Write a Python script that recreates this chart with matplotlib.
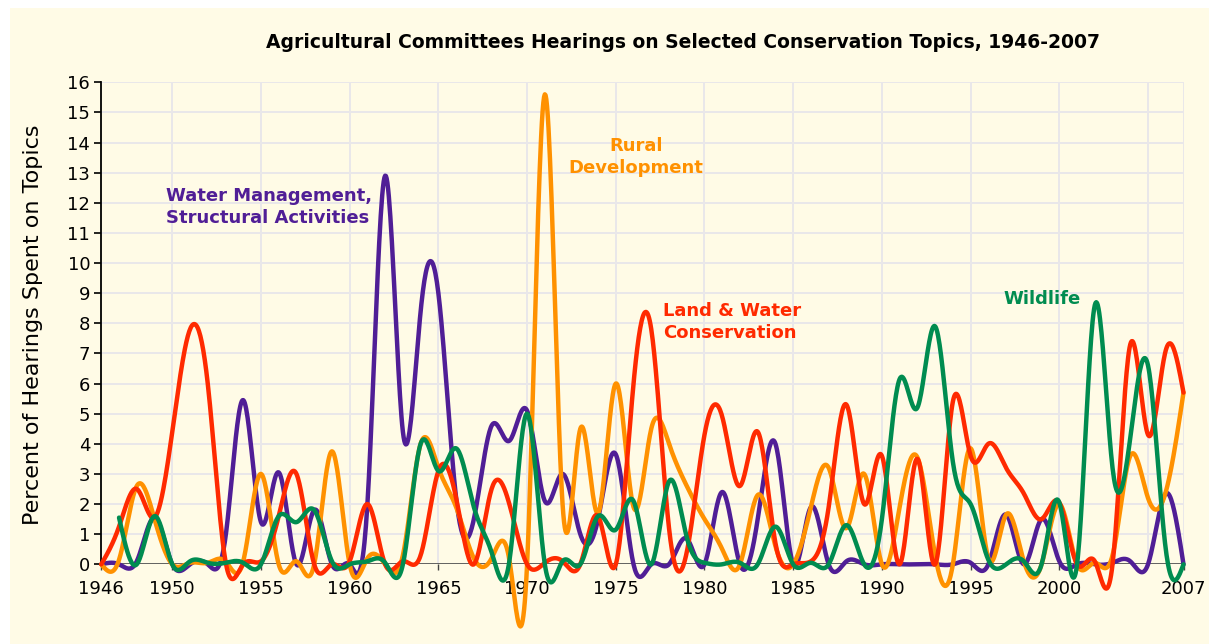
import numpy as np
import matplotlib
matplotlib.use("Agg")
import matplotlib.pyplot as plt
from matplotlib.patches import Rectangle

# ---- data: percent of hearings per year ----
years = list(range(1946, 2008))

water_mgmt = [0, 0, 0.1, 1.55, 0, 0, 0, 0.9, 5.45, 1.4,
              3.05, 0, 1.8, 0, 0, 2.0, 12.9, 4.4, 8.4, 9.0,
              2.2, 1.5, 4.6, 4.1, 5.1, 2.1, 3.0, 1.0, 1.5, 3.65,
              0, 0, 0, 0.85, 0, 2.4, 0, 1.5, 4.0, 0,
              1.9, 0, 0.1, 0, 0, 0, 0, 0, 0, 0.05,
              0, 1.65, 0, 1.5, 0.1, 0, 0, 0.05, 0.1, 0,
              2.35, 0]

rural_dev = [0, 0.15, 2.6, 1.5, 0, 0.05, 0.05, 0.1, 0.1, 3.0,
             0, 0.1, 0, 3.75, 0, 0.2, 0, 0.3, 4.0, 3.2,
             1.9, 0.2, 0.2, 0.15, 0, 15.6, 2.0, 4.5, 1.7, 6.0,
             1.9, 4.5, 4.0, 2.6, 1.5, 0.5, 0, 2.3, 0.6, 0,
             1.9, 3.2, 1.2, 3.0, 0, 1.9, 3.55, 0.3, 0, 3.85,
             0.2, 1.65, 0.1, 0, 2.0, 0, 0.05, 0.3, 3.6, 2.2,
             2.4, 5.7]

land_water = [0, 1.25, 2.5, 1.55, 4.4, 7.8, 6.0, 0.1, 0, 0.1,
              1.6, 3.0, 0, 0, 0.1, 2.0, 0, 0.1, 0.3, 3.1,
              2.2, 0, 2.5, 2.0, 0, 0.05, 0.1, 0, 1.6, 0,
              6.0, 7.8, 1.2, 0.4, 4.3, 4.9, 2.6, 4.4, 0.7, 0,
              0.1, 1.9, 5.3, 2.0, 3.6, 0, 3.5, 0, 5.4, 3.6,
              4.0, 3.2, 2.35, 1.5, 2.05, 0, 0.1, 0, 7.3, 4.3,
              7.1, 5.7]

# wildlife series begins in 1947
wildlife_years = list(range(1947, 2008))
wildlife = [1.55, 0, 1.6, 0, 0.1, 0.05, 0.05, 0.05, 0,
            1.6, 1.4, 1.8, 0.1, 0, 0.1, 0.05, 0, 4.0, 3.1,
            3.85, 1.9, 0.4, 0.1, 5.0, 0, 0.1, 0, 1.6, 1.15,
            2.1, 0, 2.75, 0.9, 0.05, 0, 0.05, 0, 1.25, 0,
            0.05, 0, 1.3, 0, 1.5, 6.15, 5.2, 7.9, 3.4, 2.0,
            0.15, 0, 0.1, 0, 2.05, 0, 8.6, 3.2, 4.2, 6.6,
            0.5, 0]

x_ticks = [1946, 1950, 1955, 1960, 1965, 1970, 1975, 1980, 1985, 1990, 1995, 2000, 2007]
y_ticks = list(range(0, 17))

C_PURPLE = "#501e96"
C_ORANGE = "#ff9100"
C_RED = "#ff2a00"
C_GREEN = "#008c50"
C_BG = "#fffbe6"


def natural_spline(x, y, n=24):
    """Natural cubic spline through (x, y), sampled n times per interval."""
    x = np.asarray(x, float)
    y = np.asarray(y, float)
    k = len(x)
    h = np.diff(x)
    A = np.zeros((k, k))
    r = np.zeros(k)
    A[0, 0] = A[-1, -1] = 1.0
    for i in range(1, k - 1):
        A[i, i - 1] = h[i - 1]
        A[i, i] = 2 * (h[i - 1] + h[i])
        A[i, i + 1] = h[i]
        r[i] = 6 * ((y[i + 1] - y[i]) / h[i] - (y[i] - y[i - 1]) / h[i - 1])
    M = np.linalg.solve(A, r)
    xs, ys = [], []
    for i in range(k - 1):
        t = np.linspace(x[i], x[i + 1], n, endpoint=(i == k - 2))
        a = x[i + 1] - t
        b = t - x[i]
        hi = h[i]
        s = (M[i] * a ** 3 / (6 * hi) + M[i + 1] * b ** 3 / (6 * hi)
             + (y[i] / hi - M[i] * hi / 6) * a + (y[i + 1] / hi - M[i + 1] * hi / 6) * b)
        xs.append(t)
        ys.append(s)
    return np.concatenate(xs), np.concatenate(ys)


fig = plt.figure(figsize=(12.09, 6.44), dpi=100, facecolor="white")
fig.patches.append(Rectangle((10 / 1209, 0), 1, (644 - 8) / 644,
                             transform=fig.transFigure, facecolor=C_BG,
                             edgecolor="none", zorder=-10))

ax = fig.add_axes([101.3 / 1209, (644 - 564.3) / 644,
                   (1183.5 - 101.3) / 1209, (564.3 - 82.3) / 644])
ax.set_facecolor(C_BG)
ax.set_xlim(1946, 2007)
ax.set_ylim(0, 16)

# grid
for yv in range(1, 17):
    ax.axhline(yv, color="#e9e7ea", lw=1.4, zorder=1)
for xv in list(range(1950, 2006, 5)) + [2007]:
    ax.axvline(xv, color="#e9e7ea", lw=1.4, zorder=1)

# series
series = [
    (years, water_mgmt, C_PURPLE),
    (years, rural_dev, C_ORANGE),
    (years, land_water, C_RED),
    (wildlife_years, wildlife, C_GREEN),
]
for i, (xx, yy, col) in enumerate(series):
    sx, sy = natural_spline(xx, yy)
    ax.plot(sx, sy, color=col, lw=3.2, solid_capstyle="round",
            clip_on=False, zorder=5 + i)

# zero line
ax.axhline(0, color="#555555", lw=1.3, zorder=3)

for s in ["top", "right", "bottom"]:
    ax.spines[s].set_visible(False)
ax.spines["left"].set_color("black")
ax.spines["left"].set_linewidth(1.3)

ax.set_xticks(x_ticks)
ax.set_xticklabels([str(v) for v in x_ticks])
ax.set_yticks(y_ticks)
ax.set_yticklabels([str(v) for v in y_ticks])
ax.tick_params(axis="x", length=4, width=1, color="#444444", pad=7,
               labelsize=13, labelcolor="black")
ax.tick_params(axis="y", length=5, width=1.2, color="black", pad=3,
               labelsize=13, labelcolor="black")

fig.text(33 / 1209, (644 - 325) / 644, "Percent of Hearings Spent on Topics",
         rotation=90, ha="center", va="center", fontsize=16, color="black")

fig.text(682.5 / 1209, (644 - 42) / 644,
         "Agricultural Committees Hearings on Selected Conservation Topics, 1946-2007",
         ha="center", va="center", fontsize=13.5, fontweight="bold", color="black")

lab = dict(fontsize=13, fontweight="bold", linespacing=1.25, zorder=10)
ax.text(1949.65, 11.86, "Water Management,\nStructural Activities",
        color=C_PURPLE, ha="left", va="center", multialignment="left", **lab)
ax.text(1976.14, 13.52, "Rural\nDevelopment",
        color=C_ORANGE, ha="center", va="center", multialignment="center", **lab)
ax.text(1977.65, 8.04, "Land & Water\nConservation",
        color=C_RED, ha="left", va="center", multialignment="left", **lab)
ax.text(1996.83, 8.81, "Wildlife",
        color=C_GREEN, ha="left", va="center", **lab)

fig.savefig("out.png", dpi=100, facecolor=fig.get_facecolor())
